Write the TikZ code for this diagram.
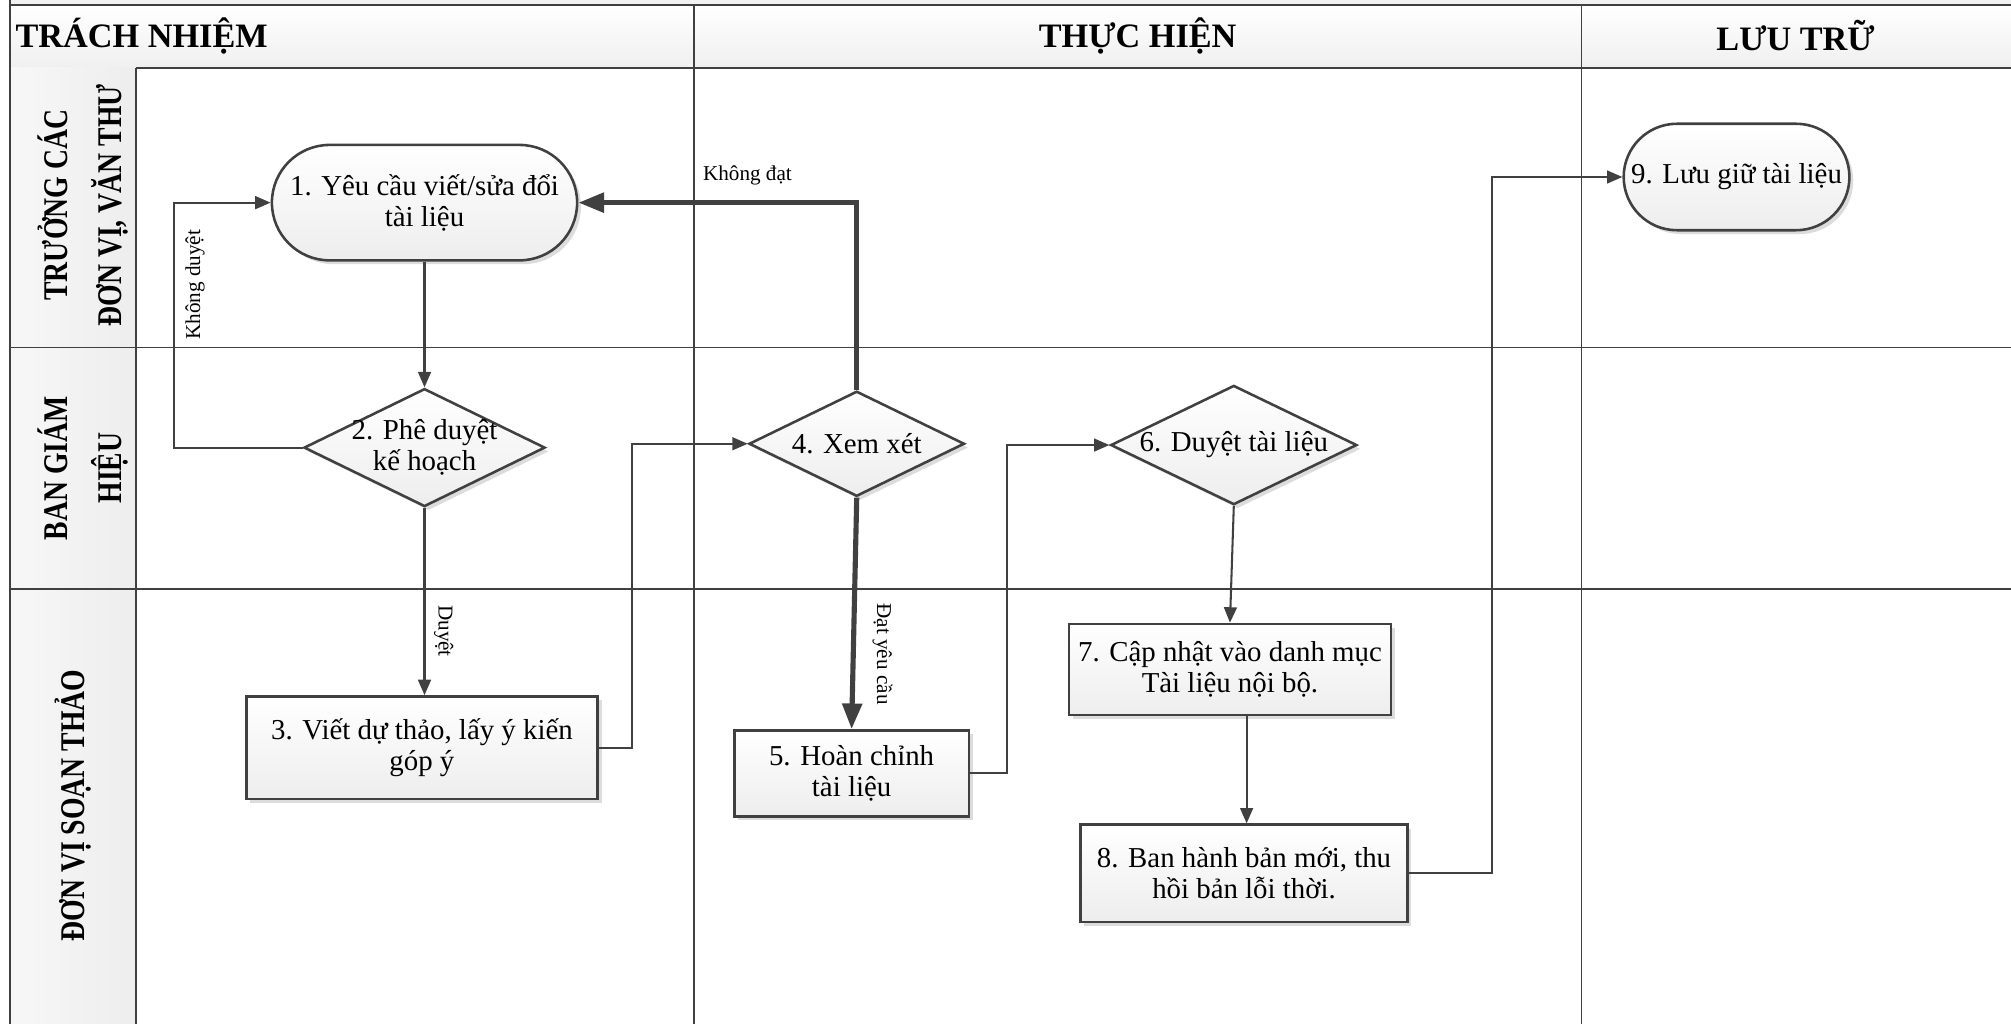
\documentclass[tikz,border=0pt]{standalone}
\usepackage{fontspec}
\setmainfont{Liberation Serif}
\newfontfamily\condfont{Liberation Serif}[FakeStretch=0.8]
\usetikzlibrary{shapes.geometric,shapes.misc,arrows.meta,shadows}
\definecolor{ln}{HTML}{404040}
\begin{document}
\begin{tikzpicture}[x=1pt,y=-1pt,
  laneline/.style={draw=ln,line width=1.3pt},
  box/.style={draw=ln,line width=2pt,top color=white,bottom color=gray!14,
    drop shadow={shadow xshift=3pt,shadow yshift=-3pt,fill=gray!60,opacity=0.45},
    inner sep=0pt},
  proc/.style={box,rectangle},
  term/.style={box,rounded rectangle},
  dec/.style={box,diamond},
  txt/.style={align=center,font=\fontsize{22.5}{24}\selectfont,inner sep=0pt},
  hdrtxt/.style={font=\bfseries\fontsize{26.7}{30}\selectfont,inner sep=0pt},
  lanetxt/.style={align=center,rotate=90,font=\condfont\bfseries\fontsize{27}{42}\selectfont,inner sep=0pt},
  small/.style={font=\fontsize{16.5}{18}\selectfont,inner sep=0pt},
  conn/.style={draw=ln,line width=1.6pt,-{Triangle[length=12pt,width=10pt]}},
  thick conn/.style={draw=ln,line width=4pt,-{Triangle[length=20pt,width=15pt]}}
]
\useasboundingbox (0,0) rectangle (1568,798);
\clip (0,0) rectangle (1568,798);

% top band
\fill[gray!10] (8,-5) rectangle (1580,4);
% header cells
\shade[top color=white,bottom color=gray!12] (8,4) rectangle (1580,53);
\draw[laneline] (8,4) -- (1580,4);
\draw[laneline] (8,53) -- (1580,53);
% lane label column
\shade[left color=gray!6,right color=gray!14] (8,53) rectangle (106,810);
% lane lines
\draw[laneline] (8,271) -- (1580,271);
\draw[laneline] (8,459) -- (1580,459);
\draw[laneline] (8,-5) -- (8,810);
\draw[laneline] (106,53) -- (106,810);
\draw[laneline] (541,4) -- (541,810);
\draw[laneline] (1233,4) -- (1233,810);

% headers
\node[hdrtxt,anchor=west] (hTN) at (12,28) {TRÁCH NHIỆM};
\node[hdrtxt] (hTH) at (887,28) {THỰC HIỆN};
\node[hdrtxt] (hLT) at (1400,28) {LƯU TRỮ};

% lane labels
\node[lanetxt] (l1) at (65,160) {TRƯỞNG CÁC\\ĐƠN VỊ, VĂN THƯ};
\node[lanetxt] (l2) at (65,365) {BAN GIÁM\\HIỆU};
\node[lanetxt] (l3) at (57,628) {ĐƠN VỊ SOẠN THẢO};

% nodes
\node[term,minimum width=238pt,minimum height=90pt] (n1) at (331,158) {};
\node[txt] (t1) at (n1) {1. Yêu cầu viết/sửa đổi\\tài liệu};
\node[dec,minimum width=188pt,minimum height=92pt] (n2) at (331,349) {};
\node[txt] (t2) at (n2) {2. Phê duyệt\\kế hoạch};
\node[proc,minimum width=274pt,minimum height=80pt] (n3) at (329,583) {};
\node[txt] (t3) at (n3) {3. Viết dự thảo, lấy ý kiến\\góp ý};
\node[dec,minimum width=168pt,minimum height=82pt] (n4) at (668,346) {};
\node[txt] (t4) at (n4) {4. Xem xét};
\node[proc,minimum width=183pt,minimum height=67pt] (n5) at (664,603) {};
\node[txt] (t5) at (n5) {5. Hoàn chỉnh\\tài liệu};
\node[dec,minimum width=192pt,minimum height=93pt] (n6) at (962,347) {};
\node[txt] (t6) at (n6) {6. Duyệt tài liệu};
\node[proc,minimum width=251pt,minimum height=71pt] (n7) at (959,522) {};
\node[txt] (t7) at (n7) {7. Cập nhật vào danh mục\\Tài liệu nội bộ.};
\node[proc,minimum width=255pt,minimum height=76pt] (n8) at (970,681) {};
\node[txt] (t8) at (n8) {8. Ban hành bản mới, thu\\hồi bản lỗi thời.};
\node[term,minimum width=176pt,minimum height=83pt] (n9) at (1354,138) {};
\node[txt] (t9) at (n9) {9. Lưu giữ tài liệu};

% connectors
\coordinate (k2) at (136,349);
\draw[conn] (n1.south) -- (n2.north);
\draw[conn] (n2.west) -- (k2) |- (n1.west);
\draw[conn] (n2.south) -- (n3.north -| n2.south);
\draw[conn] (n3.east) -- ++(26,0) |- (n4.west);
\draw[thick conn] (n4.south) -- (n5.north);
\draw[thick conn] (n4.north) |- (n1.east);
\draw[conn] (n5.east) -- ++(29,0) |- (n6.west);
\draw[conn] (n6.south) -- (n7.north);
\draw[conn] (n7.south -| 972,0) -- (n8.north -| 972,0);
\draw[conn] (n8.east) -- ++(65,0) |- (n9.west);

% labels
\node[small,rotate=90] (lb1) at (152,222) {Không duyệt};
\node[small,rotate=-90] (lb2) at (346,492) {Duyệt};
\node[small,rotate=-90] (lb3) at (688,510) {Đạt yêu cầu};
\node[small,anchor=west] (lb4) at (548,137) {Không đạt};
\end{tikzpicture}
\end{document}
